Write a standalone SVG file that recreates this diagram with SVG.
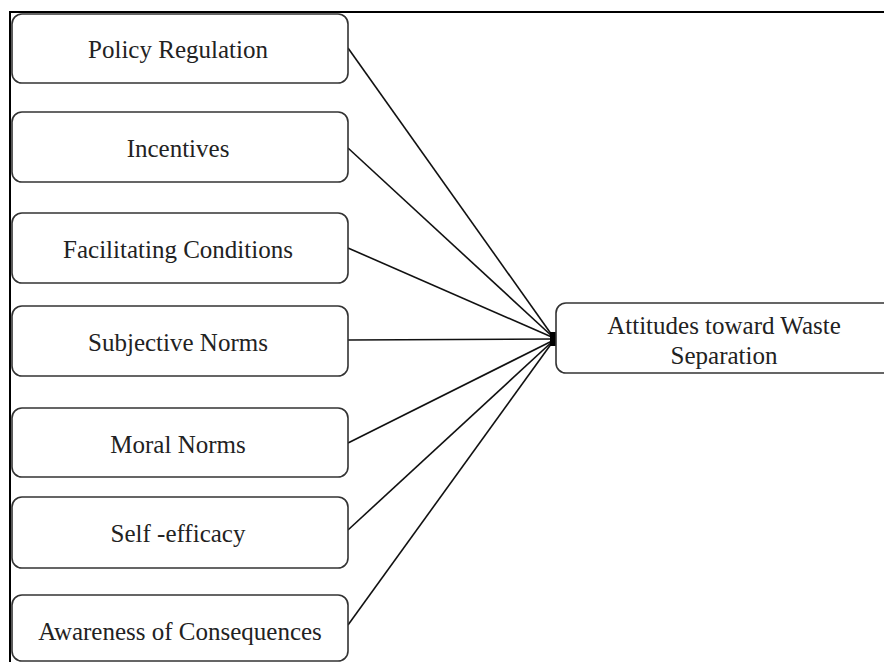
<svg xmlns="http://www.w3.org/2000/svg" width="884" height="662" viewBox="0 0 884 662">
<style>
.box{fill:#fff;stroke:#333;stroke-width:1.6}
.lbl{font-family:"Liberation Serif","Times New Roman",serif;font-size:25px;fill:#222;text-anchor:middle;dominant-baseline:central}
.edge{stroke:#111;stroke-width:1.6;fill:none}
</style>
<rect width="884" height="662" fill="#fff"/>
<path d="M10 662 V12 H884" fill="none" stroke="#000" stroke-width="2"/>
<g id="connectors">
<line class="edge" x1="348" y1="48" x2="554" y2="338"/>
<line class="edge" x1="348" y1="148" x2="554" y2="338"/>
<line class="edge" x1="348" y1="248" x2="554" y2="338"/>
<line class="edge" x1="348" y1="340" x2="554" y2="339"/>
<line class="edge" x1="348" y1="443" x2="554" y2="340"/>
<line class="edge" x1="348" y1="530" x2="554" y2="340"/>
<line class="edge" x1="348" y1="625" x2="554" y2="340"/>
<rect x="550" y="332" width="6" height="14" fill="#000"/>
</g>
<g id="policy"><rect class="box" x="12" y="14" width="336" height="69" rx="10"/><text class="lbl" x="178" y="49">Policy Regulation</text></g>
<g id="incentives"><rect class="box" x="12" y="112" width="336" height="70" rx="10"/><text class="lbl" x="178" y="148">Incentives</text></g>
<g id="facilitating"><rect class="box" x="12" y="213" width="336" height="70" rx="10"/><text class="lbl" x="178" y="249">Facilitating Conditions</text></g>
<g id="subjective"><rect class="box" x="12" y="306" width="336" height="70" rx="10"/><text class="lbl" x="178" y="342">Subjective Norms</text></g>
<g id="moral"><rect class="box" x="12" y="408" width="336" height="69" rx="10"/><text class="lbl" x="178" y="444">Moral Norms</text></g>
<g id="selfefficacy"><rect class="box" x="12" y="497" width="336" height="71" rx="10"/><text class="lbl" x="178" y="533">Self -efficacy</text></g>
<g id="awareness"><rect class="box" x="12" y="595" width="336" height="66" rx="10"/><text class="lbl" x="180" y="631">Awareness of Consequences</text></g>
<g id="attitudes"><rect class="box" x="556" y="303" width="340" height="70" rx="10"/><text class="lbl" x="724" y="325">Attitudes toward Waste</text><text class="lbl" x="724" y="355">Separation</text></g>
</svg>
